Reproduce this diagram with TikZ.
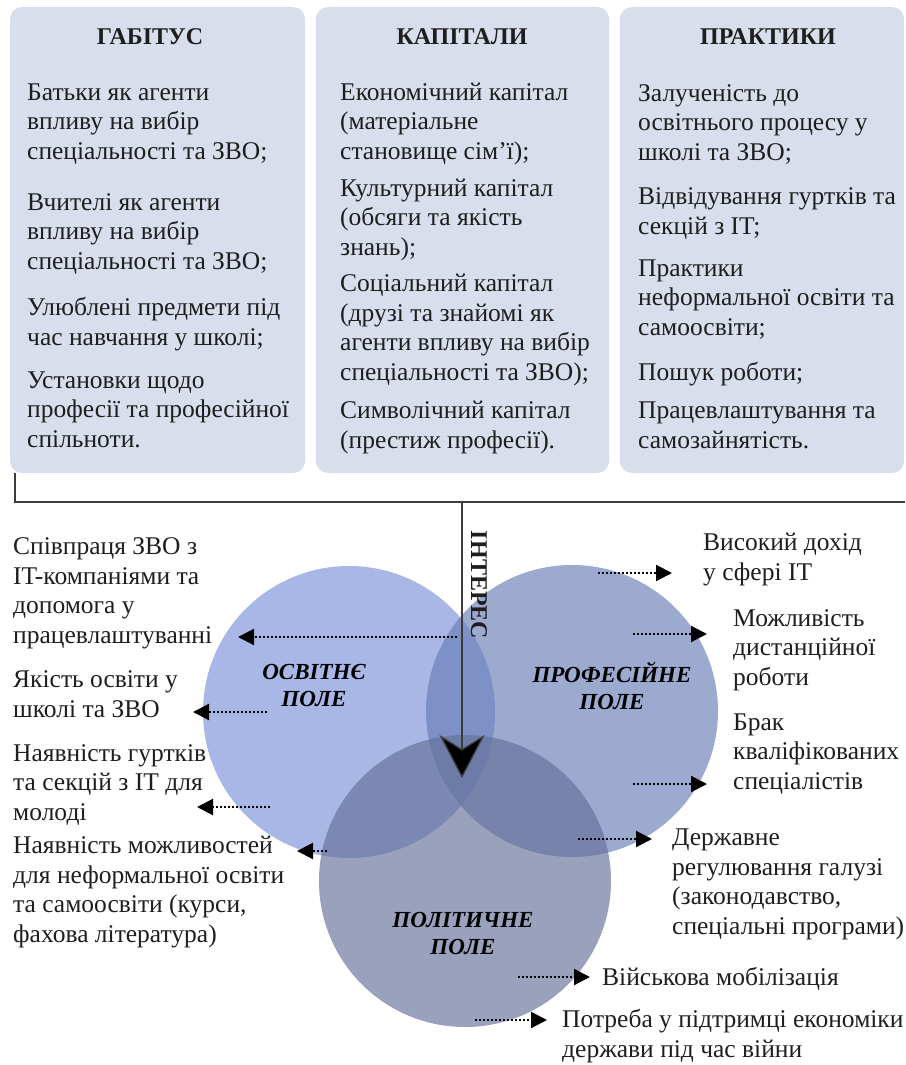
\documentclass[tikz,border=0pt]{standalone}
\usepackage{fontspec}
\setmainfont{Liberation Serif}
\usetikzlibrary{arrows.meta}
\definecolor{boxfill}{RGB}{217,222,236}
\definecolor{osvfill}{RGB}{123,145,217}
\definecolor{proffill}{RGB}{103,125,182}
\definecolor{polfill}{RGB}{100,111,152}
\definecolor{ink}{RGB}{30,30,30}
\definecolor{rule}{RGB}{60,60,60}
\begin{document}
\begin{tikzpicture}[x = 1pt, y = -1pt,
    box/.style = {rectangle, rounded corners = 12pt, fill = boxfill, minimum height = 466pt},
    head/.style = {font = \fontsize{24}{29}\selectfont\bfseries, text = ink, anchor = base},
    txt/.style = {font = \fontsize{25.5}{29.5}\selectfont, text = ink, align = left, inner sep = 0pt, anchor = base west},
    field/.style = {circle, minimum size = 292pt, inner sep = 0pt, fill opacity = 0.65},
    lbl/.style = {font = \fontsize{23}{27}\selectfont\bfseries\itshape, align = center, text = black},
    dots/.style = {black, line width = 2.1pt, dash pattern = on 2pt off 2pt, -{Triangle[length = 16pt, width = 16pt]}}]
        \useasboundingbox (0, 0) rectangle (905, 1065);
        % three columns (text nodes sit on the baseline of their last line)
        \node[box, minimum width = 295pt] (gab) at (157.5, 240) {};
        \node[box, minimum width = 293pt] (kap) at (462.5, 240) {};
        \node[box, minimum width = 284pt] (prak) at (762, 240) {};
        \node[head] (gabh) at (150, 45) {ГАБІТУС};
        \node[head] (kaph) at (462, 45) {КАПІТАЛИ};
        \node[head] (prakh) at (768, 45) {ПРАКТИКИ};
        \node[txt] (g1) at (27, 159) {Батьки як агенти\\впливу на вибір\\спеціальності та ЗВО;};
        \node[txt] (g2) at (27, 269) {Вчителі як агенти\\впливу на вибір\\спеціальності та ЗВО;};
        \node[txt] (g3) at (27, 345) {Улюблені предмети під\\час навчання у школі;};
        \node[txt] (g4) at (27, 447) {Установки щодо\\професії та професійної\\спільноти.};
        \node[txt] (k1) at (340, 159) {Економічний капітал\\(матеріальне\\становище сім'ї);};
        \node[txt] (k2) at (340, 255) {Культурний капітал\\(обсяги та якість\\знань);};
        \node[txt] (k3) at (340, 380) {Соціальний капітал\\(друзі та знайомі як\\агенти впливу на вибір\\спеціальності та ЗВО);};
        \node[txt] (k4) at (340, 448) {Символічний капітал\\(престиж професії).};
        \node[txt] (p1) at (638, 160) {Залученість до\\освітнього процесу у\\школі та ЗВО;};
        \node[txt] (p2) at (638, 234) {Відвідування гуртків та\\секцій з IT;};
        \node[txt] (p3) at (638, 335) {Практики\\неформальної освіти та\\самоосвіти;};
        \node[txt] (p4) at (638, 380) {Пошук роботи;};
        \node[txt] (p5) at (638, 448) {Працевлаштування та\\самозайнятість.};
        % bracket and interest arrow
        \coordinate (brl) at (15, 473);
        \coordinate (brc) at (15, 502);
        \coordinate (brr) at (905, 502);
        \coordinate (intop) at (462, 502);
        \coordinate (intip) at (462, 778);
        \draw[line width = 1.5pt, rule] (brl) -- (brc) -- (brr);
        % fields
        \node[field, fill = osvfill] (osv) at (349, 712) {};
        \node[field, fill = proffill] (prof) at (572, 711) {};
        \node[field, fill = polfill] (pol) at (465, 881) {};
        \draw[line width = 1.3pt, rule, -{Stealth[length = 43pt, width = 45pt, inset = 14pt, fill = black]}] (intop) -- (intip);
        \node[head, anchor = center, rotate = -90] (inter) at (479, 585) {ІНТЕРЕС};
        \node[lbl] (osvl) at (314, 685) {ОСВІТНЄ\\ПОЛЕ};
        \node[lbl] (profl) at (612, 686) {ПРОФЕСІЙНЕ\\ПОЛЕ};
        \node[lbl] (poll) at (463, 933) {ПОЛІТИЧНЕ\\ПОЛЕ};
        % left factors
        \node[txt] (l1) at (13, 643) {Співпраця ЗВО з\\IT-компаніями та\\допомога у\\працевлаштуванні};
        \node[txt] (l2) at (13, 717) {Якість освіти у\\школі та ЗВО};
        \node[txt] (l3) at (13, 820) {Наявність гуртків\\та секцій з IT для\\молоді};
        \node[txt] (l4) at (13, 942) {Наявність можливостей\\для неформальної освіти\\та самоосвіти (курси,\\фахова література)};
        % right factors
        \node[txt] (r1) at (703, 580) {Високий дохід\\у сфері IT};
        \node[txt] (r2) at (733, 685) {Можливість\\дистанційної\\роботи};
        \node[txt] (r3) at (733, 789) {Брак\\кваліфікованих\\спеціалістів};
        \node[txt] (r4) at (672, 934) {Державне\\регулювання галузі\\(законодавство,\\спеціальні програми)};
        \node[txt] (r5) at (602, 985) {Військова мобілізація};
        \node[txt] (r6) at (562, 1057) {Потреба у підтримці економіки\\держави під час війни};
        % dotted arrows
        \coordinate (l1s) at (457, 637);  \coordinate (l1e) at (238, 637);
        \coordinate (l2s) at (267, 712);  \coordinate (l2e) at (193, 712);
        \coordinate (l3s) at (270, 807);  \coordinate (l3e) at (197, 807);
        \coordinate (l4s) at (327, 851);  \coordinate (l4e) at (297, 851);
        \coordinate (r1s) at (598, 573);  \coordinate (r1e) at (672, 573);
        \coordinate (r2s) at (633, 634);  \coordinate (r2e) at (707, 634);
        \coordinate (r3s) at (633, 784);  \coordinate (r3e) at (707, 784);
        \coordinate (r4s) at (578, 839);  \coordinate (r4e) at (652, 839);
        \coordinate (r5s) at (518, 977);  \coordinate (r5e) at (590, 977);
        \coordinate (r6s) at (475, 1020); \coordinate (r6e) at (547, 1020);
        \foreach \a in {l1, l2, l3, l4, r1, r2, r3, r4, r5, r6}
            \draw[dots] (\a s) -- (\a e);
    \end{tikzpicture}
\end{document}
